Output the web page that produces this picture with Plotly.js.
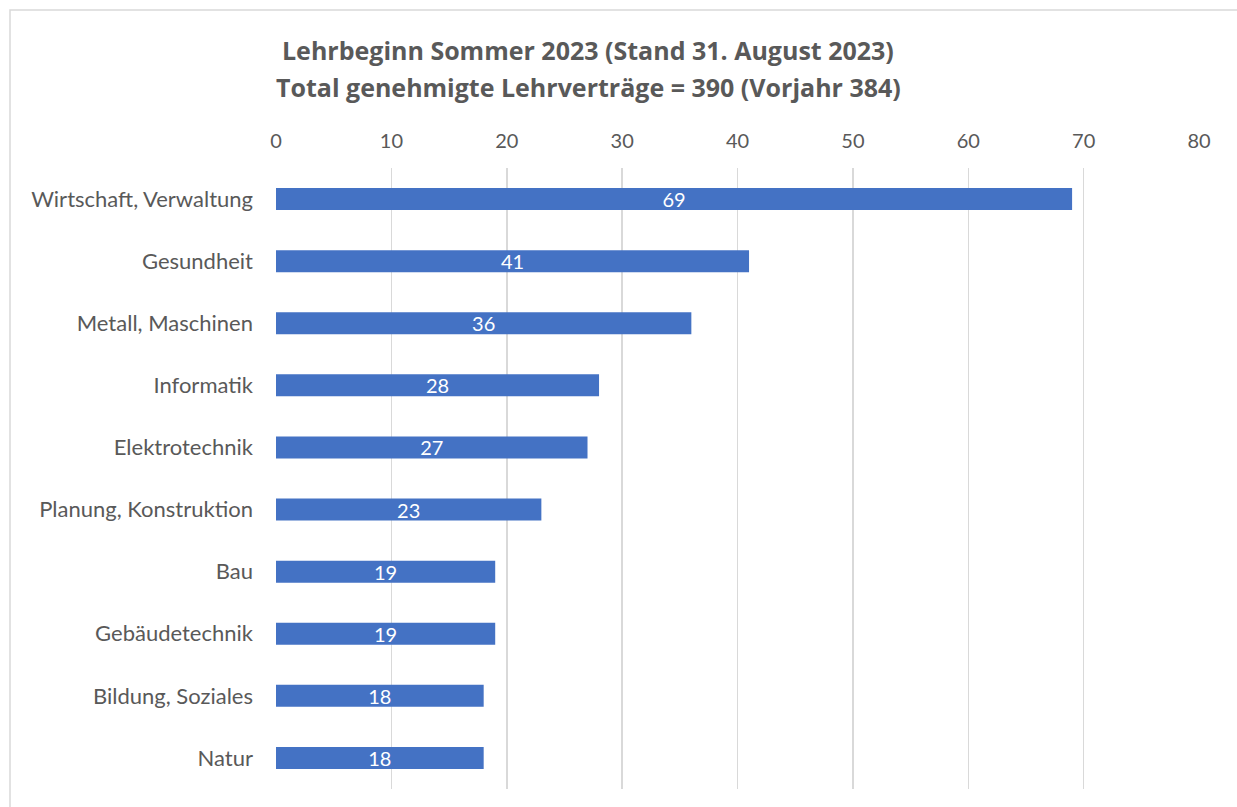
<!DOCTYPE html>
<html>
<head>
<meta charset="utf-8">
<script src="https://cdn.plot.ly/plotly-3.0.1.min.js"></script>
<style>html,body{margin:0;padding:0;background:#fff;}#chart{width:1237px;height:807px;}</style>
</head>
<body>
<div id="chart"></div>
<script>
const categories = ["Wirtschaft, Verwaltung","Gesundheit","Metall, Maschinen","Informatik","Elektrotechnik","Planung, Konstruktion","Bau","Gebäudetechnik","Bildung, Soziales","Natur"];
const values = [69,41,36,28,27,23,19,19,18,18];
const xTicks = [0,10,20,30,40,50,60,70,80];
const titleLine1 = "Lehrbeginn Sommer 2023 (Stand 31. August 2023)";
const titleLine2 = "Total genehmigte Lehrverträge = 390 (Vorjahr 384)";

const font = "Lato, 'Open Sans', sans-serif";
const titleFont = {family: "'Open Sans', sans-serif", size: 25, color: "#595959", weight: "bold"};
const trace = {
  type: "bar",
  orientation: "h",
  x: values,
  y: categories,
  marker: {color: "#4472C4"},
  text: values.map(String),
  textposition: "inside",
  insidetextanchor: "middle",
  constraintext: "none",
  textangle: 0,
  textfont: {color: "#ffffff", size: 20, family: font},
  hoverinfo: "none"
};
const layout = {
  width: 1237, height: 807,
  margin: {l: 276, r: 38, t: 168, b: 18},
  paper_bgcolor: "#ffffff", plot_bgcolor: "#ffffff",
  bargap: 0.645,
  annotations: [
    {text: titleLine1, xref: "paper", yref: "paper", x: (588-276)/923, y: 1 + (168-50)/621,
     xanchor: "center", yanchor: "middle", showarrow: false, font: titleFont},
    {text: titleLine2, xref: "paper", yref: "paper", x: (588-276)/923, y: 1 + (168-87)/621,
     xanchor: "center", yanchor: "middle", showarrow: false, font: titleFont}
  ],
  xaxis: {side: "top", range: [0, 80], tickvals: xTicks, ticktext: xTicks.map(String),
          showgrid: true, gridcolor: "#d9d9d9", gridwidth: 1.5, zeroline: false,
          showline: false, ticks: "", ticklabelstandoff: 15,
          tickfont: {family: font, size: 20, color: "#595959"}, fixedrange: true},
  yaxis: {autorange: "reversed", categoryorder: "array", categoryarray: categories,
          showgrid: false, zeroline: false, showline: false, ticks: "",
          ticklabelstandoff: 22,
          tickfont: {family: font, size: 22, color: "#595959"}, fixedrange: true},
  shapes: [{type: "rect", xref: "paper", yref: "paper",
            x0: (10-276)/923, x1: 1.2, y0: -0.2, y1: 1 + (168-10)/621,
            line: {color: "#d9d9d9", width: 1.5}, fillcolor: "rgba(0,0,0,0)", layer: "below"}],
  showlegend: false
};
Plotly.newPlot("chart", [trace], layout, {displayModeBar: false, staticPlot: true});
</script>
</body>
</html>
